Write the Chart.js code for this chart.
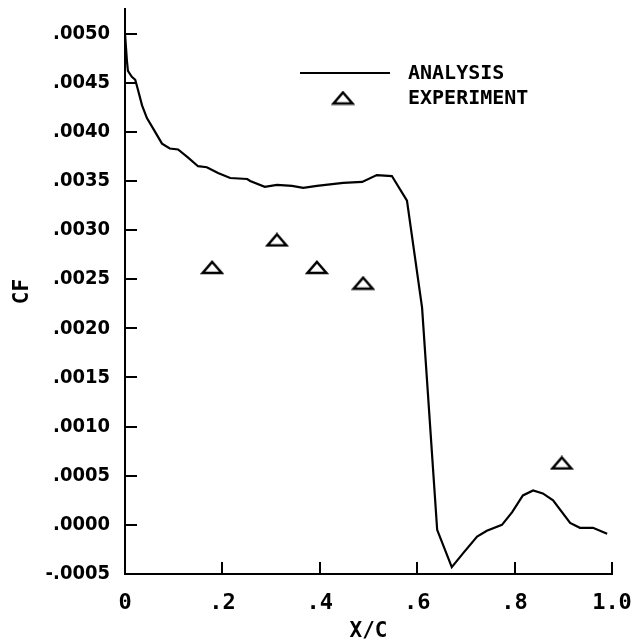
<!DOCTYPE html>
<html>
<head>
<meta charset="utf-8">
<script src="https://cdn.jsdelivr.net/npm/chart.js@4"></script>
<style>
  html, body { margin: 0; padding: 0; background: #fff; }
  canvas { display: block; }
</style>
</head>
<body>
<canvas id="cf" width="639" height="644"></canvas>
<script>
// Analysis curve (x/c, cf).
const analysisX = [0, 0.004, 0.006, 0.014, 0.021, 0.027, 0.035, 0.045, 0.057, 0.076,
  0.092, 0.109, 0.129, 0.150, 0.168, 0.191, 0.216, 0.251, 0.257, 0.287, 0.312, 0.343,
  0.366, 0.394, 0.448, 0.487, 0.517, 0.548, 0.579, 0.610, 0.641, 0.671, 0.694, 0.723,
  0.743, 0.774, 0.795, 0.817, 0.838, 0.858, 0.879, 0.914, 0.934, 0.961, 0.990];
const analysisCF = [0.00500, 0.00472, 0.00462, 0.00456, 0.00453, 0.00442, 0.00427,
  0.00414, 0.00404, 0.00388, 0.00383, 0.00382, 0.00374, 0.00365, 0.00364, 0.00358,
  0.00353, 0.00352, 0.00350, 0.00344, 0.00346, 0.00345, 0.00343, 0.00345, 0.00348,
  0.00349, 0.00356, 0.00355, 0.00330, 0.00221, -0.00005, -0.00043, -0.00029, -0.00012,
  -0.00006, 0.00000, 0.00013, 0.00030, 0.00035, 0.00032, 0.00025, 0.00002, -0.00003,
  -0.00003, -0.00009];

// Experiment points.
const experimentX = [0.179, 0.312, 0.394, 0.489, 0.897];
const experimentCF = [0.00262, 0.00290, 0.00262, 0.00246, 0.00063];

const xTicks = [0, 0.2, 0.4, 0.6, 0.8, 1.0];
const xTickLabels = ["0", ".2", ".4", ".6", ".8", "1.0"];
const yTicks = [-0.0005, 0, 0.0005, 0.0010, 0.0015, 0.0020, 0.0025, 0.0030,
  0.0035, 0.0040, 0.0045, 0.0050];
const yTickLabels = ["-.0005", ".0000", ".0005", ".0010", ".0015", ".0020", ".0025",
  ".0030", ".0035", ".0040", ".0045", ".0050"];

const MONO = "'DejaVu Sans Mono', monospace";
const COND = "'DejaVu Sans Condensed', 'DejaVu Sans', sans-serif";

// flat open triangle used as the experiment marker
function makeTriangle() {
  const c = document.createElement("canvas");
  c.width = 24; c.height = 15;
  const g = c.getContext("2d");
  g.strokeStyle = "#000";
  g.lineWidth = 2.5;
  g.lineJoin = "miter";
  g.beginPath();
  g.moveTo(12, 2);
  g.lineTo(21.5, 13);
  g.lineTo(2.5, 13);
  g.closePath();
  g.stroke();
  return c;
}
const tri = makeTriangle();

// tick marks drawn inward from the axis lines
const innerTicks = {
  id: "innerTicks",
  afterDraw(chart) {
    const { ctx, chartArea: a, scales } = chart;
    ctx.save();
    ctx.strokeStyle = "#000";
    ctx.lineWidth = 2;
    ctx.beginPath();
    scales.y.ticks.forEach((t) => {
      const y = Math.round(scales.y.getPixelForValue(t.value));
      ctx.moveTo(a.left, y);
      ctx.lineTo(a.left + 12, y);
    });
    scales.x.ticks.forEach((t) => {
      if (t.value === 0) return;
      const x = Math.round(scales.x.getPixelForValue(t.value));
      ctx.moveTo(x, a.bottom);
      ctx.lineTo(x, a.bottom - 12);
    });
    ctx.stroke();
    ctx.restore();
  },
};

// legend inside the plot, upper middle
const plotLegend = {
  id: "plotLegend",
  afterDraw(chart) {
    const { ctx } = chart;
    ctx.save();
    ctx.strokeStyle = "#000";
    ctx.lineWidth = 2;
    ctx.beginPath();
    ctx.moveTo(300, 73);
    ctx.lineTo(390, 73);
    ctx.stroke();
    ctx.drawImage(tri, 343 - tri.width / 2, 98 - tri.height / 2);
    ctx.fillStyle = "#000";
    ctx.font = "bold 20px " + MONO;
    ctx.textBaseline = "middle";
    ctx.textAlign = "left";
    ctx.fillText(chart.data.datasets[0].label, 408, 74);
    ctx.fillText(chart.data.datasets[1].label, 408, 99);
    ctx.restore();
  },
};

new Chart(document.getElementById("cf"), {
  type: "scatter",
  data: {
    datasets: [
      {
        label: "ANALYSIS",
        data: analysisX.map((x, i) => ({ x, y: analysisCF[i] })),
        showLine: true,
        borderColor: "#000",
        borderWidth: 2.2,
        pointRadius: 0,
        tension: 0,
      },
      {
        label: "EXPERIMENT",
        data: experimentX.map((x, i) => ({ x, y: experimentCF[i] })),
        pointStyle: tri,
        pointRadius: 8,
      },
    ],
  },
  options: {
    responsive: false,
    animation: false,
    layout: { padding: { top: 8, right: 27, left: 0, bottom: 0 } },
    plugins: {
      legend: { display: false },
      tooltip: { enabled: false },
    },
    scales: {
      x: {
        type: "linear",
        min: 0,
        max: 1.0,
        afterBuildTicks: (s) => { s.ticks = xTicks.map((v) => ({ value: v })); },
        afterFit: (s) => {
          s.height = 70;
          s.paddingLeft = 0;
          s.paddingRight = 0;
        },
        grid: { display: false },
        border: { display: true, color: "#000", width: 2 },
        ticks: {
          color: "#000",
          font: { family: MONO, size: 22, weight: "bold" },
          padding: 8,
          maxRotation: 0,
          callback: (v, i) => xTickLabels[i],
        },
        title: {
          display: true,
          text: "X/C",
          color: "#000",
          font: { family: MONO, size: 21, weight: "bold" },
          padding: { top: 0, bottom: 0 },
        },
      },
      y: {
        type: "linear",
        min: -0.0005,
        max: 0.00525,
        afterBuildTicks: (s) => { s.ticks = yTicks.map((v) => ({ value: v })); },
        afterFit: (s) => {
          s.width = 125;
          s.paddingTop = 0;
          s.paddingBottom = 0;
        },
        grid: { display: false },
        border: { display: true, color: "#000", width: 2 },
        ticks: {
          color: "#000",
          font: { family: COND, size: 20, weight: "bold" },
          padding: 7,
          callback: (v, i) => yTickLabels[i],
        },
        title: {
          display: true,
          text: "CF",
          color: "#000",
          font: { family: MONO, size: 21, weight: "bold" },
          padding: { top: 10, bottom: 0 },
        },
      },
    },
  },
  plugins: [innerTicks, plotLegend],
});
</script>
</body>
</html>
